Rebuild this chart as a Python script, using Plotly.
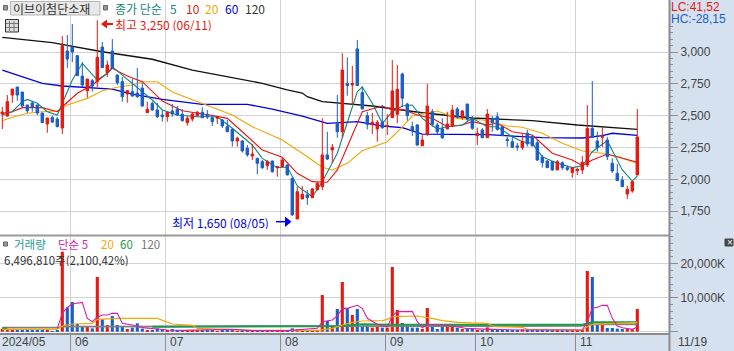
import plotly.graph_objects as go

# ---------- data ----------
price_high = [2570,2662,2709,2725,2686,2584,2610,2584,2521,2482,
2500,2490,3125,3133,3220,2976,2921,2788,2788,3250,
3079,2932,3102,2820,2804,2702,2788,2874,2757,2610,
2610,2600,2545,2527,2592,2576,2553,2497,2524,2537,
2566,2545,2492,2497,2474,2466,2396,2335,2309,2270,
2278,2168,2152,2152,2148,2105,2173,2118,2011,1943,
1948,1917,1932,1979,2480,2374,2278,2662,2990,2958,
2890,3094,2728,2529,2521,2466,2584,2513,2937,2898,
2838,2600,2453,2435,2348,2749,2553,2443,2480,2531,
2584,2568,2545,2592,2498,2406,2403,2553,2498,2527,
2419,2335,2348,2286,2354,2388,2348,2309,2192,2152,
2144,2152,2142,2108,2092,2092,2184,2584,2772,2374,
2411,2333,2166,2121,2026,1950,1987,2553]
price_low = [2395,2492,2600,2617,2560,2521,2531,2505,2445,2366,
2442,2413,2356,2874,2921,2814,2725,2641,2688,2725,
2874,2804,2872,2741,2610,2602,2647,2639,2571,2524,
2539,2482,2453,2453,2492,2497,2453,2421,2453,2497,
2482,2474,2419,2435,2403,2372,2257,2257,2210,2178,
2152,2040,2082,2074,2053,2021,2097,2031,1715,1689,
1846,1799,1856,1917,1917,2152,2131,2327,2327,2657,
2584,2733,2553,2393,2356,2296,2396,2348,2482,2440,
2566,2461,2341,2264,2264,2341,2414,2356,2317,2396,
2411,2482,2466,2453,2388,2270,2325,2327,2374,2382,
2341,2257,2249,2225,2231,2257,2258,2144,2092,2089,
2066,2074,2074,2066,2013,2034,2042,2097,2327,2217,
2254,2152,2050,1990,1940,1846,1895,2034]
price_open = [2513,2497,2662,2725,2686,2584,2600,2584,2521,2435,
2487,2474,2403,3008,3039,2971,2811,2696,2775,2767,
3039,2838,3008,2820,2767,2670,2688,2678,2717,2524,
2597,2545,2505,2492,2537,2550,2511,2445,2474,2500,
2527,2511,2484,2480,2466,2414,2393,2301,2301,2244,
2184,2166,2139,2108,2144,2092,2100,2113,2009,1689,
1846,1878,1856,1917,1943,2192,2231,2440,2374,2754,
2741,3024,2681,2500,2432,2396,2448,2414,2484,2511,
2827,2592,2414,2427,2264,2356,2531,2427,2396,2396,
2419,2553,2487,2592,2472,2343,2388,2327,2480,2492,
2414,2315,2296,2262,2249,2362,2335,2288,2173,2144,
2139,2074,2131,2092,2053,2068,2074,2113,2401,2301,
2330,2309,2126,2048,1995,1885,1909,2034]
price_close = [2529,2610,2709,2662,2576,2539,2568,2521,2445,2482,
2450,2413,3049,2945,3000,2814,2741,2788,2733,2958,
2877,2898,2872,2759,2649,2696,2655,2649,2576,2550,
2545,2492,2492,2527,2513,2505,2461,2480,2513,2527,
2484,2492,2453,2492,2419,2374,2301,2323,2223,2192,
2199,2126,2092,2139,2060,2100,2152,2035,1721,1903,
1883,1856,1925,1969,2192,2160,2252,2374,2859,2736,
2754,2736,2553,2432,2448,2448,2406,2422,2694,2707,
2637,2500,2380,2270,2309,2576,2432,2374,2327,2435,
2545,2487,2537,2472,2401,2362,2327,2513,2445,2393,
2343,2304,2252,2254,2296,2278,2264,2152,2131,2092,
2074,2139,2092,2079,2092,2079,2134,2401,2330,2249,
2335,2178,2066,1990,1943,1922,1982,2333]
volume_k = [784,588,490,392,392,294,294,294,294,294,196,294,
23520,7154,8722,2254,1470,1470,980,16072,3626,1960,4606,1960,1666,784,1176,2450,882,490,490,980,686,392,784,
392,392,294,294,294,392,294,294,196,294,294,392,196,294,294,196,294,294,196,392,196,196,392,
980,784,196,196,196,196,
10780,3136,1764,6664,14602,6860,4900,6664,1470,1470,1176,1470,1176,1176,19012,6370,2548,1470,1176,1176,784,6958,1372,784,1372,1666,1666,1176,784,784,980,490,490,1274,490,490,
490,490,294,294,686,490,490,294,294,294,294,294,294,294,294,294,392,
17836,16072,2156,2450,1078,1078,882,784,784,686,6664]

ma5_idx = [0,2,4,5,7,9,11,12,14,16,19,21,22,24,28,30,32,35,39,43,46,50,52,55,57,59,62,64,67,69,71,72,74,76,78,80,82,84,87,89,92,94,97,99,102,104,106,108,111,114,116,118,121,124,126,127]
ma5_val = [2505,2531,2610,2628,2597,2531,2505,2597,2780,2911,2780,2833,2884,2819,2688,2623,2545,2505,2492,2492,2401,2270,2165,2092,2097,1948,1864,1982,2205,2440,2688,2727,2597,2440,2531,2576,2584,2479,2395,2413,2427,2479,2413,2413,2335,2296,2283,2178,2126,2092,2107,2217,2304,2074,1987,2026]
ma10_idx = [0,2,4,8,11,12,15,18,21,22,25,28,32,36,42,45,48,52,56,59,62,65,67,69,72,76,78,80,83,86,89,92,94,97,99,102,106,110,114,116,118,121,124,127]
ma10_val = [2519,2531,2563,2563,2531,2570,2676,2741,2833,2872,2811,2767,2615,2539,2501,2479,2374,2231,2173,2048,1982,1977,2074,2256,2531,2576,2545,2550,2505,2479,2413,2427,2453,2427,2440,2374,2348,2205,2152,2107,2152,2199,2165,2134]
ma20_idx = [0,2,5,8,11,13,17,20,23,26,28,31,34,41,46,50,56,61,64,66,69,72,77,80,82,87,91,96,101,104,108,112,116,120,123,127]
ma20_val = [2461,2487,2519,2531,2537,2584,2636,2696,2723,2741,2767,2767,2686,2580,2505,2413,2309,2178,2095,2074,2126,2225,2296,2413,2497,2537,2479,2466,2419,2409,2362,2283,2223,2205,2178,2126]
ma60_idx = [0,4,8,12,17,22,26,32,40,49,54,60,65,71,76,80,84,89,97,108,116,120,122,127]
ma60_val = [2858,2804,2754,2733,2720,2709,2670,2628,2589,2589,2552,2497,2440,2453,2419,2406,2356,2354,2351,2327,2325,2343,2362,2346]
ma120_idx = [0,10,20,30,38,48,52,57,60,61,64,74,84,94,106,115,124,127]
ma120_val = [3115,3073,3002,2943,2858,2784,2754,2702,2678,2649,2610,2576,2523,2482,2461,2427,2403,2393]

vma5_idx = [11,12,13,14,16,17,18,19,20,21,22,23,24,26,28,30,33,36,46,50,57,63,64,66,67,68,69,71,72,73,75,77,78,79,82,83,84,85,88,91,93,98,101,104,116,117,118,119,120,121,122,123,124,126,127]
vma5_val = [980,5390,7154,8134,8624,3920,2940,4214,4900,4900,5390,5390,2450,1960,1176,882,490,392,686,294,294,980,2940,3430,4606,6860,6860,7742,6860,3920,2156,1470,4606,5880,5978,2940,1176,2156,1960,1470,882,686,490,490,490,2940,6860,7154,7742,7742,3920,1666,1176,686,1372]
vma20_idx = [0,11,12,14,18,19,23,31,34,38,39,50,63,66,68,70,72,76,77,78,83,86,88,91,97,98,99,104,105,116,117,118,127]
vma20_val = [686,686,1666,2254,2450,3626,3920,3920,2254,1862,980,392,392,980,1960,2744,3136,3234,3626,4410,4606,3920,3234,2744,2450,1666,1470,1274,686,490,1470,2156,2744]
vma60_idx = [0,1,None,30,63,68,72,78,116,118,127]
vma60_val = [1029,1029,None,1470,1470,1666,2156,2058,2058,2744,2744]
vma120_idx = [0,11,12,66,116,117,127]
vma120_val = [1176,1176,1470,1666,1666,2156,2156]

month_start = [14,33,56,77,95,115]
month_labels = ["06","07","08","09","10","11"]
price_ticks = [1750,2000,2250,2500,2750,3000]
volume_ticks = [0,10000,20000]
volume_tick_labels = ["","10,000K","20,000K"]

# ---------- styles ----------
W, H = 734, 351
PW, PH = 669, 333
RED = "#e8170f"; BLUE = "#1a5ec8"; PANEL = "#d6e1ef"; GRID = "#d2d2d2"; AXIS = "#8c8c8c"
TEAL = "#12857a"; ORANGE = "#f0a800"; PURE_BLUE = "#0000e6"; TXT = "#444444"
FONT = "Noto Sans CJK KR"
LATIN = "Liberation Sans"
X_MIN, X_MAX = -0.46, 133.34
PRICE_RANGE = [1555.4, 3408.3]
VOL_RANGE = [-391, 28126]
SPLIT = 236

px = lambda x: x / PW
py = lambda y: 1 - y / PH
xs = list(range(len(price_close)))

fig = go.Figure()

def line(idx, val, color, width, axis):
    fig.add_trace(go.Scatter(x=idx, y=val, mode="lines", yaxis=axis, hoverinfo="skip",
                             line=dict(color=color, width=width), showlegend=False))

line(ma120_idx, ma120_val, "#111111", 1.3, "y")
line(ma60_idx, ma60_val, PURE_BLUE, 1.3, "y")
line(ma20_idx, ma20_val, ORANGE, 1.1, "y")
line(ma10_idx, ma10_val, "#ee1111", 1.1, "y")
line(ma5_idx, ma5_val, TEAL, 1.1, "y")

fig.add_trace(go.Candlestick(x=xs, open=price_open, high=price_high, low=price_low, close=price_close,
                             yaxis="y3", hoverinfo="skip", showlegend=False, whiskerwidth=0,
                             increasing=dict(line=dict(color=RED, width=1), fillcolor=RED),
                             decreasing=dict(line=dict(color=BLUE, width=1), fillcolor=BLUE)))

fig.add_trace(go.Bar(x=xs, y=volume_k, yaxis="y2", width=0.62, hoverinfo="skip", showlegend=False,
                     marker=dict(color=[RED if c >= o else BLUE for o, c in zip(price_open, price_close)], line_width=0)))
line(vma120_idx, vma120_val, "#808080", 1.6, "y2")
line(vma60_idx, vma60_val, "#1a9a4a", 2, "y2")
line(vma20_idx, vma20_val, ORANGE, 1.2, "y2")
line(vma5_idx, vma5_val, "#d81fa8", 1.1, "y2")

# ---------- text ----------
ann = []
def text(x, y, s, color=TXT, size=12, anchor="left", family=FONT, box=14):
    ann.append(dict(x=px(x), y=py(y), xref="paper", yref="paper", text=s, showarrow=False,
                    xanchor=anchor, yanchor="middle", align="left", borderpad=0, borderwidth=0, height=box,
                    font=dict(family=family, size=size, color=color)))

text(12.5, 8, "이브이첨단소재", "#333333", 12)
text(115, 8, "종가 단순", TEAL)
text(170, 8, "5", TEAL)
text(186, 8, "10", RED)
text(205, 8, "20", ORANGE)
text(225, 8, "60", PURE_BLUE)
text(245, 8, "120", "#333333")
text(115, 23.5, "최고 3,250 (06/11)", RED)
text(172, 221.5, "최저 1,650 (08/05)", PURE_BLUE)
text(671, 7, "LC:41,52", RED, family=LATIN, box=12)
text(671, 19, "HC:-28,15", BLUE, family=LATIN, box=12)
text(14, 243.5, "거래량", "#2a9d96", 11.5, box=13)
text(58, 243.5, "단순 5", "#d81fa8", 11.5, box=13)
text(101, 243.5, "20", ORANGE, 11.5, box=13)
text(120, 243.5, "60", "#1a9a4a", 11.5, box=13)
text(141, 243.5, "120", "#777777", 11.5, box=13)
text(4, 259.5, "6,496,810주(2,100,42%)", "#333333", 11.5, box=13)
text(2, 342, "2024/05", family=LATIN)
text(678, 342, "11/19", family=LATIN)
for m, lab in zip(month_start, month_labels):
    ann.append(dict(x=m - 0.36, y=py(342), xref="x", yref="paper", text=lab, showarrow=False,
                    xanchor="left", yanchor="middle", xshift=2,
                    font=dict(family=LATIN, size=12, color=TXT)))
text(729.5, 242, "×", "#ffffff", 10, "center", family=LATIN, box=10)

# ---------- decorations ----------
def rect(x0, y0, x1, y1, fill, border=None, w=1):
    return dict(type="rect", xref="paper", yref="paper", x0=px(x0), x1=px(x1), y0=py(y0), y1=py(y1),
                fillcolor=fill, line=dict(color=border or fill, width=w), layer="above")
def seg(x0, y0, x1, y1, color, w=1):
    return dict(type="line", xref="paper", yref="paper", x0=px(x0), x1=px(x1), y0=py(y0), y1=py(y1),
                line=dict(color=color, width=w), layer="above")
def tri(pts, color):
    p = "M " + " L ".join(f"{px(a)} {py(b)}" for a, b in pts) + " Z"
    return dict(type="path", xref="paper", yref="paper", path=p, fillcolor=color, line=dict(color=color, width=0), layer="above")

shapes = [
    seg(0, SPLIT - 0.5, PW, SPLIT - 0.5, "#9a9a9a", 2),
    seg(PW + 0.5, 0, PW + 0.5, H, AXIS, 2),
    rect(10.5, 1.5, 100, 15, "#e8e8e8", "#b5b5b5"),
    rect(3.5, 5.5, 7.5, 10, "#999999", "#666666"),
    rect(103.5, 5.5, 107.5, 10, "#999999", "#666666"),
    rect(3.5, 242, 7.5, 246, "#999999", "#666666"),
    rect(5.5, 19.5, 18.5, 32, "#dddddd", "#333333"),
    seg(9.5, 21, 9.5, 31, "#777777"), seg(14, 21, 14, 31, "#777777"),
    seg(6, 23.5, 18, 23.5, "#777777"), seg(6, 27.5, 18, 27.5, "#777777"),
    seg(106, 24, 113, 24, RED, 2),
    tri([(101, 24), (107, 19.5), (107, 28.5)], RED),
    seg(276, 221.7, 286, 221.7, PURE_BLUE, 1.5),
    tri([(291.5, 221.7), (285, 216.5), (285, 227)], PURE_BLUE),
    rect(725, 239, 733, 246, "#444444"),
]

minor_vals = list(range(1600, 3201, 50))
fig.update_layout(
    width=W, height=H, margin=dict(l=0, r=W - PW, t=0, b=H - PH, pad=0),
    paper_bgcolor=PANEL, plot_bgcolor="#ffffff", showlegend=False, bargap=0.4,
    font=dict(family=FONT, size=12, color=TXT),
    annotations=ann, shapes=shapes,
    xaxis=dict(range=[X_MIN, X_MAX], anchor="y2", rangeslider=dict(visible=False),
               tickmode="array", tickvals=[m - 0.36 for m in month_start], ticktext=["" for _ in month_start],
               showgrid=True, gridcolor=GRID, gridwidth=1.4, zeroline=False,
               ticks="outside", ticklen=18, tickcolor=AXIS, tickwidth=1.4,
               showline=True, linecolor=AXIS, linewidth=2),
    yaxis=dict(domain=[(PH - SPLIT) / PH, 1], range=PRICE_RANGE, side="right", anchor="x",
               tickmode="array", tickvals=price_ticks, tickformat=",", showgrid=True, gridcolor=GRID, gridwidth=1.4,
               zeroline=False, ticks="outside", ticklen=8, tickcolor=AXIS, tickwidth=1,
               tickfont=dict(family=LATIN, size=12, color=TXT), showline=False,
               minor=dict(tickmode="array", tickvals=minor_vals, ticks="outside", ticklen=3, tickcolor=AXIS, tickwidth=1, showgrid=False)),
    yaxis2=dict(domain=[0, (PH - SPLIT) / PH], range=VOL_RANGE, side="right", anchor="x",
                tickmode="array", tickvals=volume_ticks, ticktext=volume_tick_labels, showgrid=True, gridcolor=GRID, gridwidth=1.4,
                zeroline=False, ticks="outside", ticklen=8, tickcolor=AXIS, tickwidth=1,
                tickfont=dict(family=LATIN, size=12, color=TXT), showline=False,
                minor=dict(tickmode="array", tickvals=list(range(2000, 28001, 2000)), ticks="outside", ticklen=3, tickcolor=AXIS, tickwidth=1, showgrid=False)),
    yaxis3=dict(overlaying="y", range=PRICE_RANGE, side="right", anchor="x", visible=False, showgrid=False),
)

fig.write_html("out.html", config=dict(displayModeBar=False),
               post_script="document.body.style.margin='0';document.body.style.overflow='hidden';")
